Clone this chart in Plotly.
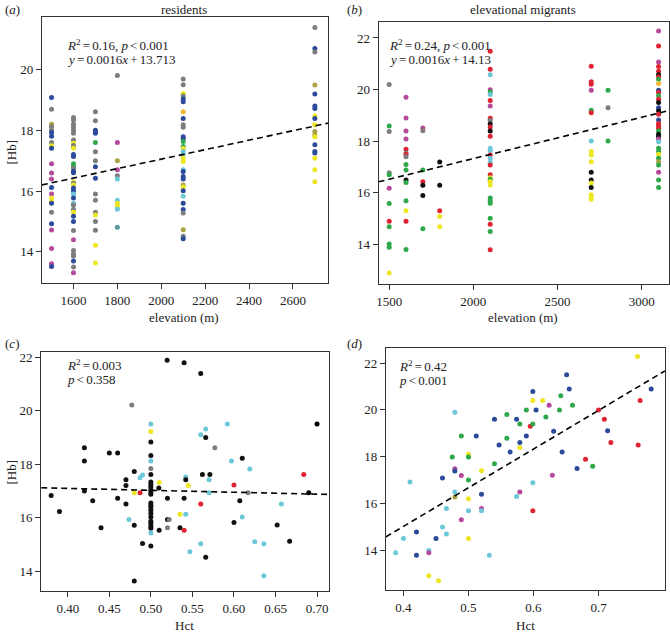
import plotly.graph_objects as go

W, H = 670, 633

# ---------------- data ----------------
# group codes -> colour (style)
COL = {"K": "#7d7d7d", "B": "#2b4a9c", "M": "#b54a9d", "Y": "#ece623", "G": "#2ea84a",
       "C": "#6cc8d8", "R": "#de2432", "X": "#111111", "O": "#a9a244", "N": "#f1b733",
       "T": "#5b9c9c"}

# panel (a) residents: [Hb] by elevation
A_ELEV = [1500, 1600, 1700, 1800, 2100, 2700]
A_HB_1500 = [19.08, 18.69, 18.2, 18.12, 18.0, 17.93, 17.8, 17.6, 17.49, 17.41, 16.9, 16.59, 16.4,
             16.12, 15.9, 15.77, 15.66, 15.6, 15.3, 14.92, 14.72, 14.11, 13.61, 13.52]
A_GRP_1500 = list("BKOKKBBKYBMMMBMYYBKBMMMB")
A_HB_1600 = [18.42, 18.34, 18.2, 18.1, 18.0, 17.9, 17.68, 17.57, 17.5, 17.41, 17.2, 17.14, 16.9,
             16.8, 16.75, 16.65, 16.6, 16.3, 16.26, 16.2, 16.1, 16.0, 15.9, 15.77, 15.6, 15.53,
             15.39, 15.3, 15.17, 15.0, 14.7, 14.4, 14.04, 13.93, 13.86, 13.7, 13.5, 13.31]
A_GRP_1600 = list("KKKKKKKYKYBBGGKBBYKYBBCBCKKYBBKMKKKBKM")
A_HB_1700 = [18.61, 18.31, 18.0, 17.95, 17.9, 17.6, 17.29, 17.0, 16.8, 16.42, 15.9, 15.7, 15.3,
             15.21, 15.0, 14.71, 14.22, 13.63]
A_GRP_1700 = list("KKBBBGKKBBKKKYKKYY")
A_HB_1800 = [19.8, 17.6, 17.0, 16.7, 16.5, 16.4, 15.7, 15.6, 15.5, 15.4, 14.81]
A_GRP_1800 = list("KMOMKCCYYCT")
A_HB_2100 = [19.69, 19.5, 19.21, 19.13, 19.03, 18.94, 18.61, 18.39, 18.18, 18.1, 17.79, 17.72,
             17.63, 17.47, 17.4, 17.3, 17.19, 17.08, 16.97, 16.7, 16.64, 16.48, 16.4, 16.2, 16.13,
             16.01, 15.83, 15.6, 15.39, 15.28, 14.73, 14.51, 14.43]
A_GRP_2100 = list("KKYKBBNBKKBBGGYCCYYCBBBOYBCBBKOKB")
A_HB_2700 = [21.38, 20.69, 20.58, 19.49, 19.19, 18.8, 18.72, 18.47, 18.39, 18.18, 17.96, 17.85,
             17.79, 17.52, 17.3, 17.25, 17.08, 16.7, 16.31]
A_GRP_2700 = list("KBKOBBBYBYOOYBBBYYY")
A_FIT = [0.00156, 13.93]

# panel (b) elevational migrants
B_ELEV = [1500, 1600, 1700, 1800, 2100, 2700, 2800, 3100]
B_HB_1500 = [20.2, 18.59, 18.38, 16.78, 16.7, 16.18, 15.59, 14.9, 14.69, 14.02, 13.9, 12.9]
B_GRP_1500 = list("KGKKGMGRGGGY")
B_HB_1600 = [19.7, 18.9, 18.4, 18.09, 17.69, 17.55, 17.5, 17.4, 17.1, 16.89, 16.5, 16.4, 15.7,
             15.31, 14.9, 13.81]
B_GRP_1600 = list("MMMMRKRKGGXGGYRG")
B_HB_1700 = [18.51, 18.41, 16.89, 16.43, 16.3, 15.9, 14.61]
B_GRP_1700 = list("MKGRXXG")
B_HB_1800 = [17.2, 16.3, 15.31, 15.09, 14.69]
B_GRP_1800 = list("XXRYY")
B_HB_2100 = [21.49, 20.79, 20.58, 19.99, 19.91, 19.81, 19.58, 19.37, 18.89, 18.8, 18.67, 18.55,
             18.4, 18.19, 17.73, 17.64, 17.47, 17.34, 17.19, 17.08, 16.7, 16.59, 16.53, 16.44,
             16.31, 15.8, 15.69, 15.6, 15.02, 14.79, 14.51, 13.8]
B_GRP_2100 = list("RRCMGCRMRKXRXRCCRCCRRYGYYGGGGRGR")
B_HB_2700 = [20.9, 20.3, 20.21, 19.98, 19.2, 19.1, 18.01, 17.6, 17.47, 17.21, 16.8, 16.5, 16.38,
             16.21, 15.93, 15.83, 15.76]
B_GRP_2700 = list("RRRMGRCYYYXXYXYYY")
B_HB_2800 = [19.98, 19.3, 18.01]
B_GRP_2800 = list("GKG")
B_HB_3100 = [22.27, 21.69, 21.07, 20.89, 20.71, 20.58, 20.49, 20.4, 20.24, 19.98, 19.89, 19.76,
             19.63, 19.5, 19.3, 19.18, 19.05, 18.82, 18.69, 18.6, 18.5, 18.4, 18.27, 18.18, 18.09,
             17.98, 17.73, 17.6, 17.5, 17.34, 17.21, 17.08, 16.8, 16.5, 16.21]
B_GRP_3100 = list("MRMRRXRGNBRGRXBXRBRRRGXXMCGGYGOGMGG")
B_FIT = [0.0016, 14.13]

# panel (c) residents: [Hb] vs Hct
C_HCT = [0.38, 0.39, 0.42, 0.42, 0.42, 0.43, 0.44, 0.45, 0.46, 0.46, 0.47, 0.47, 0.47, 0.4736,
         0.487, 0.49, 0.477, 0.48, 0.48, 0.48, 0.48, 0.487, 0.49,
         0.50, 0.50, 0.50, 0.50, 0.50, 0.50, 0.50, 0.50, 0.50, 0.50, 0.50, 0.50, 0.50, 0.50,
         0.50, 0.50, 0.50, 0.50, 0.50, 0.50, 0.50, 0.50, 0.50, 0.50, 0.50,
         0.5096, 0.51, 0.51, 0.5196, 0.52, 0.52, 0.522, 0.52, 0.535, 0.535, 0.54, 0.54, 0.54,
         0.542, 0.542, 0.542, 0.545, 0.547, 0.56, 0.56, 0.56, 0.56, 0.562, 0.566, 0.566, 0.566,
         0.57, 0.571, 0.57, 0.577, 0.592, 0.597, 0.60, 0.60, 0.61, 0.607, 0.61, 0.619, 0.617,
         0.625, 0.636, 0.636, 0.652, 0.657, 0.667, 0.684, 0.69, 0.70]
C_HB = [16.83, 16.23, 18.62, 18.12, 17.0, 16.63, 15.62, 18.42, 18.42, 16.73, 17.42, 17.21, 16.51,
        15.93, 17.5, 17.6, 20.22, 17.73, 16.93, 15.72, 13.63, 16.93, 15.03,
        19.51, 19.23, 18.83, 18.33, 18.12, 17.84, 17.62, 17.34, 17.24, 17.15, 17.05, 16.96,
        16.88, 16.55, 16.47, 16.38, 16.28, 16.16, 16.03, 15.87, 15.78, 15.68, 15.6, 15.43, 14.94,
        17.11, 17.32, 15.53, 21.9, 16.73, 15.93, 15.93, 15.62, 16.13, 15.62, 21.8, 16.73, 15.53,
        17.52, 17.42, 16.13, 17.21, 14.72, 21.4, 19.11, 16.51, 15.02, 17.62, 19.32, 19.0, 14.52,
        17.42, 17.62, 16.93, 18.62, 19.51, 18.12, 17.22, 15.82, 18.23, 16.63, 16.03, 17.82, 16.93,
        15.1, 15.02, 13.83, 15.73, 16.51, 15.12, 17.62, 16.93, 19.51]
C_GRP = list("XXXXXXXXXXXXXCCCKXYXXRX"
             "CYXXCKXXXXXXXXXXXXXXXXX"
             "CXXYXXXXKKYXXXRCXCYCXCRCXCXXCXCKCCRXXXCCKCCCXCXR")
C_FIT = [-0.72, 17.385]

# panel (d) elevational migrants: [Hb] vs Hct
D_HCT = [0.388, 0.40, 0.41, 0.42, 0.42, 0.439, 0.439, 0.439, 0.45, 0.454, 0.46, 0.46, 0.466,
         0.466, 0.475, 0.479, 0.479, 0.479, 0.479, 0.479, 0.489, 0.489, 0.489, 0.50, 0.50, 0.50,
         0.50, 0.50, 0.50, 0.512, 0.52, 0.52, 0.52, 0.52, 0.532, 0.54, 0.54, 0.547, 0.559, 0.559,
         0.564, 0.574, 0.574, 0.579, 0.579, 0.579, 0.579, 0.589, 0.589, 0.595, 0.599, 0.599,
         0.599, 0.599, 0.599, 0.604, 0.614, 0.619, 0.624, 0.631, 0.629, 0.64, 0.642, 0.644, 0.651,
         0.655, 0.66, 0.667, 0.68, 0.691, 0.70, 0.709, 0.714, 0.719, 0.76, 0.761, 0.764, 0.781]
D_HB = [13.9, 14.51, 16.92, 14.79, 13.8, 14.0, 13.91, 12.92, 14.51, 12.71, 17.09, 15.0, 15.79,
        14.71, 17.99, 19.9, 17.49, 17.39, 16.5, 16.28, 18.89, 17.2, 15.31, 18.11, 17.99, 17.01,
        16.21, 15.7, 14.51, 18.89, 17.4, 16.4, 15.79, 15.7, 13.8, 19.6, 17.7, 18.5, 19.8, 18.79,
        18.2, 16.31, 19.6, 19.4, 18.61, 18.4, 16.5, 20.0, 18.89, 19.3, 20.79, 20.4, 19.4, 16.89,
        15.7, 20.0, 20.4, 19.7, 20.2, 19.09, 17.21, 20.0, 20.6, 18.2, 21.5, 20.89, 20.2, 17.5,
        17.9, 17.6, 20.0, 19.6, 19.11, 18.61, 22.28, 18.5, 20.4, 20.89]
D_GRP = list("CCCBBCMYBYBCCCGCMBCOGMMYGGYCYBYBMCCBGBGGBCBGBYMGBRBYGCRBYGMBMGGBBBGBRGRRBRYRRB")
D_FIT = [16.5, 8.43]

# ---------------- layout helpers (pixels -> paper) ----------------
def dx(a, b):
    return [a / W, b / W]

def dy(top, bot):
    return [1 - bot / H, 1 - top / H]

FONT = "Liberation Serif"
fig = go.Figure()

panels = [
    dict(xa="x", ya="y", xd=dx(40, 327), yd=dy(15, 282), xr=[1456, 2760], yr=[12.97, 21.73],
         xt=[1600, 1800, 2000, 2200, 2400, 2600], xf=None, yt=[14, 16, 18, 20], fit=A_FIT),
    dict(xa="x2", ya="y2", xd=dx(377.7, 669), yd=dy(20, 283), xr=[1437, 3162], yr=[12.47, 22.62],
         xt=[1500, 2000, 2500, 3000], xf=None, yt=[14, 16, 18, 20, 22], fit=B_FIT),
    dict(xa="x3", ya="y3", xd=dx(39.3, 328), yd=dy(350.7, 591), xr=[0.368, 0.7144], yr=[13.25, 22.22],
         xt=[0.40, 0.45, 0.50, 0.55, 0.60, 0.65, 0.70], xf=".2f", yt=[14, 16, 18, 20, 22], fit=C_FIT),
    dict(xa="x4", ya="y4", xd=dx(385, 665), yd=dy(346.7, 590), xr=[0.3729, 0.8023], yr=[12.31, 22.66],
         xt=[0.4, 0.5, 0.6, 0.7], xf=".1f", yt=[14, 16, 18, 20, 22], fit=D_FIT),
]

def add_points(p, xs, ys, grps):
    fig.add_trace(go.Scatter(x=xs, y=ys, mode="markers", xaxis=p["xa"], yaxis=p["ya"],
                             marker=dict(size=5, color=[COL[g] for g in grps], line=dict(width=0)),
                             showlegend=False, hoverinfo="x+y"))

a_cols = [(A_HB_1500, A_GRP_1500), (A_HB_1600, A_GRP_1600), (A_HB_1700, A_GRP_1700),
          (A_HB_1800, A_GRP_1800), (A_HB_2100, A_GRP_2100), (A_HB_2700, A_GRP_2700)]
for e, (hb, gr) in zip(A_ELEV, a_cols):
    add_points(panels[0], [e] * len(hb), hb, gr)

b_cols = [(B_HB_1500, B_GRP_1500), (B_HB_1600, B_GRP_1600), (B_HB_1700, B_GRP_1700),
          (B_HB_1800, B_GRP_1800), (B_HB_2100, B_GRP_2100), (B_HB_2700, B_GRP_2700),
          (B_HB_2800, B_GRP_2800), (B_HB_3100, B_GRP_3100)]
for e, (hb, gr) in zip(B_ELEV, b_cols):
    add_points(panels[1], [e] * len(hb), hb, gr)

add_points(panels[2], C_HCT, C_HB, C_GRP)
add_points(panels[3], D_HCT, D_HB, D_GRP)

for p in panels:
    x0, x1 = p["xr"]
    s, b = p["fit"]
    fig.add_trace(go.Scatter(x=[x0, x1], y=[s * x0 + b, s * x1 + b], mode="lines",
                             xaxis=p["xa"], yaxis=p["ya"], showlegend=False, hoverinfo="skip",
                             line=dict(color="black", width=1.6, dash="6px,4px")))

layout = dict(width=W, height=H, margin=dict(l=0, r=0, t=0, b=0), plot_bgcolor="white",
              paper_bgcolor="white", font=dict(family=FONT, size=13, color="#222"))
for i, p in enumerate(panels):
    sfx = "" if i == 0 else str(i + 1)
    layout["xaxis" + sfx] = dict(domain=p["xd"], range=p["xr"], anchor=p["ya"], tickvals=p["xt"],
                                 tickformat=p["xf"], showgrid=False, zeroline=False, showline=True,
                                 linecolor="#333", linewidth=1, mirror=True, ticks="outside",
                                 ticklen=5, tickcolor="#333",
                                 tickfont=dict(family=FONT, size=13, color="#222"))
    layout["yaxis" + sfx] = dict(domain=p["yd"], range=p["yr"], anchor=p["xa"], tickvals=p["yt"],
                                 showgrid=False, zeroline=False, showline=True,
                                 linecolor="#333", linewidth=1, mirror=True, ticks="outside",
                                 ticklen=5, tickcolor="#333",
                                 tickfont=dict(family=FONT, size=13, color="#222"))
fig.update_layout(**layout)

def ann(text, px, py, xanchor="left", yanchor="middle", size=13, angle=0):
    fig.add_annotation(text=text, x=px / W, y=1 - py / H, xref="paper", yref="paper",
                       xanchor=xanchor, yanchor=yanchor, showarrow=False, textangle=angle,
                       font=dict(family=FONT, size=size, color="#222"))

s6 = "\u2006"
ann("residents", 183, 8, xanchor="center")
ann("elevational migrants", 523, 8, xanchor="center")
ann("(<i>a</i>)", 1, 8)
ann("(<i>b</i>)", 344, 8)
ann("(<i>c</i>)", 1, 343)
ann("(<i>d</i>)", 344, 343)
ann("elevation (m)", 183, 316, xanchor="center")
ann("elevation (m)", 523, 316, xanchor="center")
ann("Hct", 183, 625, xanchor="center")
ann("Hct", 525, 625, xanchor="center")
ann("[Hb]", 10, 150, xanchor="center", angle=-90)
ann("[Hb]", 10, 471, xanchor="center", angle=-90)

ann(f"<i>R</i><sup>2</sup>{s6}={s6}0.16, <i>p</i>{s6}<{s6}0.001", 63, 43)
ann(f"<i>y</i>{s6}={s6}0.0016<i>x</i>{s6}+{s6}13.713", 63, 58)
ann(f"<i>R</i><sup>2</sup>{s6}={s6}0.24, <i>p</i>{s6}<{s6}0.001", 386, 43)
ann(f"<i>y</i>{s6}={s6}0.0016<i>x</i>{s6}+{s6}14.13", 386, 58)
ann(f"<i>R</i><sup>2</sup>{s6}={s6}0.003", 63, 364)
ann(f"<i>p</i>{s6}<{s6}0.358", 63, 379)
ann(f"<i>R</i><sup>2</sup>{s6}={s6}0.42", 396, 365)
ann(f"<i>p</i>{s6}<{s6}0.001", 396, 380)

# remove the browser's default page margin so the figure sits at the window's top-left corner
fig.write_html("out.html", config={"displayModeBar": False},
               post_script="document.body.style.margin='0';")
